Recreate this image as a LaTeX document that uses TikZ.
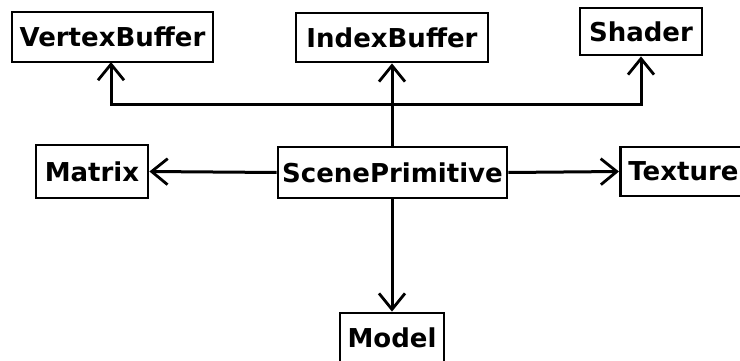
\documentclass[tikz,border=0pt]{standalone}
\usepackage{fontspec}
\setmainfont{DejaVu Sans}
\usetikzlibrary{arrows.meta}
\begin{document}
\begin{tikzpicture}[x=1pt,y=-1pt,
  box/.style={draw,line width=2.8pt,font=\bfseries\fontsize{26}{30}\selectfont,inner sep=0pt,align=center},
  arr/.style={line width=3pt,-{Straight Barb[length=16pt,width=26pt,line width=2.8pt]}}]
\useasboundingbox (0,0) rectangle (740,361);
\clip (0,0) rectangle (740,361);
\node[box,minimum width=201pt,minimum height=50pt] (vb) at (112.5,37) {VertexBuffer};
\node[box,minimum width=192pt,minimum height=49pt] (ib) at (392,37.5) {IndexBuffer};
\node[box,minimum width=122pt,minimum height=47pt] (sh) at (641,31.5) {Shader};
\node[box,minimum width=112pt,minimum height=53pt] (mx) at (92,171.5) {Matrix};
\node[box,minimum width=229pt,minimum height=51pt] (sp) at (392.5,172.5) {ScenePrimitive};
\node[box,minimum height=49pt,inner xsep=8pt,anchor=west] (tx) at (619,171.5) {Texture};
\node[box,minimum width=104pt,minimum height=50pt] (md) at (392,338) {Model};
\coordinate (j) at (392,105);
\draw[arr] (sp.north -| j) -- (ib.south -| j);
\draw[arr] (j) -| (111,62);
\draw[arr] (j) -| (sh.south);
\draw[arr] (sp.west) -- (mx.east);
\draw[arr] (sp.east) -- (tx.west);
\draw[arr] (sp.south -| md.north) -- (md.north);
\end{tikzpicture}
\end{document}
